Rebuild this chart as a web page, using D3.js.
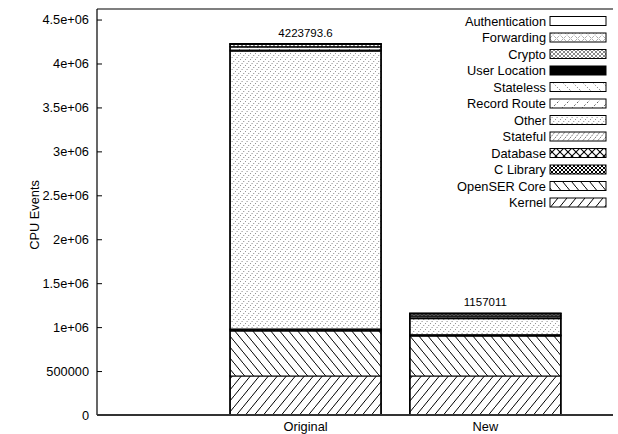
<!DOCTYPE html>
<html><head><meta charset="utf-8">
<script src="https://cdn.jsdelivr.net/npm/d3@7"></script>
<style>body{margin:0;background:#fff}svg{display:block;font-family:"Liberation Sans",Arial,sans-serif}</style>
</head><body><div id="c"></div>
<script>
const categories = ["Original", "New"];
const seriesNames = ["Kernel","OpenSER Core","C Library","Database","Stateful","Other","Record Route","Stateless","User Location","Crypto","Forwarding","Authentication"];
const kernel        = [444000, 444000];
const openserCore   = [512000, 455000];
const cLibrary      = [12000, 3000];
const database      = [6000, 2000];
const stateful      = [5000, 10000];
const other         = [3162000, 182000];
const recordRoute   = [12000, 10000];
const stateless     = [35000, 20000];
const userLocation  = [3000, 2000];
const crypto        = [25000, 22000];
const forwarding    = [6000, 5000];
const authentication= [1793.6, 2011];
const totalLabels   = ["4223793.6", "1157011"];
const yTicks = [0,500000,1000000,1500000,2000000,2500000,3000000,3500000,4000000,4500000];
const yTickLabels = ["0","500000","1e+06","1.5e+06","2e+06","2.5e+06","3e+06","3.5e+06","4e+06","4.5e+06"];
const legendOrder = ["Authentication","Forwarding","Crypto","User Location","Stateless","Record Route","Other","Stateful","Database","C Library","OpenSER Core","Kernel"];

const seriesValues = {"Kernel":kernel,"OpenSER Core":openserCore,"C Library":cLibrary,"Database":database,"Stateful":stateful,"Other":other,"Record Route":recordRoute,"Stateless":stateless,"User Location":userLocation,"Crypto":crypto,"Forwarding":forwarding,"Authentication":authentication};
const pid = s => "p-" + s.replace(/\s+/g, "_");

const W=618,H=434;
const FS=12.8;
const svg=d3.select("#c").append("svg").attr("width",W).attr("height",H);
const defs=svg.append("defs");

function pat(name,w,h,draw){
  const p=defs.append("pattern").attr("id",pid(name)).attr("patternUnits","userSpaceOnUse").attr("width",w).attr("height",h);
  p.append("rect").attr("width",w).attr("height",h).attr("fill","#fff");
  draw(p,w,h);
}
function fwd(p,w,h,sw,dash,col){
  const l=p.append("line").attr("x1",-w).attr("y1",2*h).attr("x2",2*w).attr("y2",-h).attr("stroke",col||"#000").attr("stroke-width",sw);
  if(dash) l.attr("stroke-dasharray",dash);
}
function bwd(p,w,h,sw,dash,col){
  const l=p.append("line").attr("x1",-w).attr("y1",-h).attr("x2",2*w).attr("y2",2*h).attr("stroke",col||"#000").attr("stroke-width",sw);
  if(dash) l.attr("stroke-dasharray",dash);
}
pat("Kernel",9,11,(p,w,h)=>fwd(p,w,h,1));
pat("OpenSER Core",9,11,(p,w,h)=>bwd(p,w,h,1));
pat("C Library",4,4,(p,w,h)=>{fwd(p,w,h,1);bwd(p,w,h,1);});
pat("Database",8,8,(p,w,h)=>{fwd(p,w,h,1.1);bwd(p,w,h,1.1);});
pat("Stateful",5,6,(p,w,h)=>fwd(p,w,h,0.8,"1.5,1","#444"));
pat("Other",5,6,(p,w,h)=>fwd(p,w,h,0.9,"1,1.6","#555"));
pat("Record Route",10,10,(p,w,h)=>fwd(p,w,h,0.8,"2,2","#333"));
pat("Stateless",10,10,(p,w,h)=>bwd(p,w,h,0.8,"1,2","#333"));
pat("User Location",4,4,(p)=>p.select("rect").attr("fill","#000"));
pat("Crypto",4,4,(p,w,h)=>{fwd(p,w,h,0.7,null,"#555");bwd(p,w,h,0.7,null,"#555");});
pat("Forwarding",7,7,(p,w,h)=>{fwd(p,w,h,0.7,"1,1.2","#444");bwd(p,w,h,0.7,"1,1.2","#444");});
pat("Authentication",4,4,()=>{});

const x=d3.scaleLinear().domain([-1.16,1.71]).range([97,613]);
const y=d3.scaleLinear().domain([0,4620000]).range([415,9]);
const barW=0.84;

const rows=categories.map((c,i)=>{const o={cat:c,i:i};seriesNames.forEach(s=>o[s]=seriesValues[s][i]);return o;});
const stack=d3.stack().keys(seriesNames)(rows);
const total=d=>d3.sum(seriesNames,s=>d[s]);

const g=svg.append("g");
stack.forEach(layer=>{
  g.selectAll(null).data(layer).enter().append("rect")
    .attr("x",d=>x(d.data.i-barW/2))
    .attr("width",d=>x(barW)-x(0))
    .attr("y",d=>y(d[1]))
    .attr("height",d=>Math.max(0,y(d[0])-y(d[1])))
    .attr("fill",`url(#${pid(layer.key)})`)
    .attr("stroke","#000").attr("stroke-width",1);
});
g.selectAll(null).data(rows).enter().append("rect")
  .attr("x",d=>x(d.i-barW/2)).attr("width",x(barW)-x(0))
  .attr("y",d=>y(total(d)))
  .attr("height",d=>y(0)-y(total(d)))
  .attr("fill","none").attr("stroke","#000").attr("stroke-width",1.6);
g.selectAll(null).data(rows).enter().append("text")
  .attr("x",d=>x(d.i)).attr("y",d=>y(total(d))-7)
  .attr("text-anchor","middle").attr("font-size",11.5).text((d,i)=>totalLabels[i]);

const yAxis=d3.axisLeft(y).tickValues(yTicks).tickFormat((d,i)=>yTickLabels[i]).tickSizeInner(-5).tickSizeOuter(0).tickPadding(8);
const ya=svg.append("g").attr("transform","translate(97,0)").call(yAxis);
ya.select(".domain").remove();
ya.selectAll("text").attr("font-size",FS).attr("font-family","Liberation Sans, Arial, sans-serif").attr("fill","#000");
ya.selectAll("line").attr("stroke","#000");
svg.append("line").attr("x1",97).attr("x2",97).attr("y1",9).attr("y2",415).attr("stroke","#000").attr("stroke-width",1.2);
svg.append("line").attr("x1",97).attr("x2",613).attr("y1",9).attr("y2",9).attr("stroke","#000").attr("stroke-width",1.2);
svg.append("line").attr("x1",97).attr("x2",613).attr("y1",415).attr("y2",415).attr("stroke","#333").attr("stroke-width",2);

svg.append("g").selectAll(null).data(categories).enter().append("text")
  .attr("x",(d,i)=>x(i)).attr("y",431).attr("text-anchor","middle").attr("font-size",FS).text(d=>d);

svg.append("text").attr("transform","translate(39,215) rotate(-90)").attr("text-anchor","middle").attr("font-size",FS).text("CPU Events");

const lg=svg.append("g");
legendOrder.forEach((s,i)=>{
  const yy=21+i*16.5;
  lg.append("text").attr("x",546).attr("y",yy+4.5).attr("text-anchor","end").attr("font-size",FS).text(s);
  lg.append("rect").attr("x",550).attr("y",yy-4.5).attr("width",56).attr("height",9).attr("fill",`url(#${pid(s)})`).attr("stroke","#000").attr("stroke-width",1);
});
</script></body></html>
